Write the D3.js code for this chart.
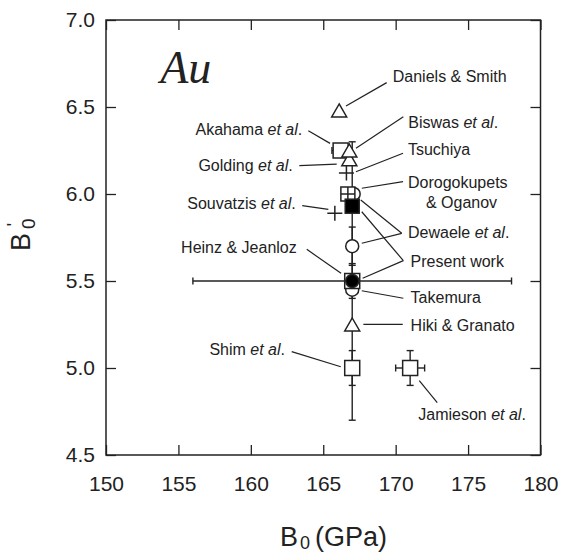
<!DOCTYPE html>
<html>
<head>
<meta charset="utf-8">
<script src="https://cdn.jsdelivr.net/npm/d3@7/dist/d3.min.js"></script>
<style>
  html, body { margin: 0; padding: 0; background: #fff; }
  svg { display: block; }
</style>
</head>
<body>
<svg id="chart" width="567" height="553"></svg>
<script>
// Reported bulk modulus B0 (GPa) and its pressure derivative B0' for gold.
// Listed in drawing order (later entries sit on top of earlier ones).
const studyNames = [
  "Takemura", "Heinz & Jeanloz", "Daniels & Smith", "Akahama et al.",
  "Golding et al.", "Biswas et al.", "Tsuchiya", "Dewaele et al.",
  "Dorogokupets & Oganov", "Present work", "Souvatzis et al.", "Dewaele et al.",
  "Present work", "Hiki & Granato", "Shim et al.", "Jamieson et al."
];
const bulkModulus = [167.0, 167.0, 166.1, 166.2, 166.8, 166.8, 166.6, 167.1,
                     166.7, 167.0, 165.8, 167.0, 167.0, 167.0, 167.0, 171.0];
const derivative  = [5.45, 5.50, 6.48, 6.25, 6.20, 6.25, 6.12, 6.00,
                     6.00, 5.93, 5.89, 5.70, 5.50, 5.25, 5.00, 5.00];
const bulkModulusErr = [0, 11.0, 0, 0.6, 0, 0, 0, 0, 0, 0, 0, 0, 0, 0, 0, 1.0];
const derivativeErr  = [0, 0.8, 0, 0, 0, 0, 0, 0, 0, 0, 0, 0.11, 0.10, 0, 0.10, 0.10];
const markerKind = [
  "circle", "square", "triangle", "square", "triangle", "triangle", "plus", "circle",
  "squarePlus", "squareFilled", "plus", "circle", "circleFilled", "triangle", "square", "square"
];

const xTicks = [150, 155, 160, 165, 170, 175, 180];
const yTicks = [4.5, 5.0, 5.5, 6.0, 6.5, 7.0];

// Study labels with their leader lines, in data units.
const notes = [
  { text: "Daniels & Smith", at: [169.80, 6.645], anchor: "start", lines: [[169.38, 6.640, 166.57, 6.506]] },
  { text: "Biswas et al.", at: [170.87, 6.381], anchor: "start", lines: [[170.53, 6.444, 167.26, 6.263]] },
  { text: "Tsuchiya", at: [170.85, 6.224], anchor: "start", lines: [[170.51, 6.234, 167.26, 6.128]] },
  { text: "Dorogokupets", at: [170.85, 6.033], anchor: "start", lines: [[170.51, 6.071, 167.66, 6.033]] },
  { text: "& Oganov", at: [172.09, 5.918], anchor: "start", lines: [] },
  { text: "Dewaele et al.", at: [170.85, 5.745], anchor: "start",
    lines: [[170.42, 5.774, 167.59, 5.966], [170.42, 5.774, 167.66, 5.717]] },
  { text: "Present work", at: [171.03, 5.579], anchor: "start",
    lines: [[170.53, 5.617, 167.66, 5.898], [170.53, 5.617, 167.72, 5.516]] },
  { text: "Takemura", at: [171.03, 5.375], anchor: "start", lines: [[170.53, 5.401, 167.66, 5.444]] },
  { text: "Hiki & Granato", at: [171.03, 5.214], anchor: "start", lines: [[170.49, 5.251, 167.77, 5.251]] },
  { text: "Jamieson et al.", at: [171.56, 4.701], anchor: "start", lines: [[172.87, 4.801, 171.63, 4.927]] },
  { text: "Akahama et al.", at: [163.55, 6.339], anchor: "end", lines: [[163.97, 6.364, 165.47, 6.291]] },
  { text: "Golding et al.", at: [162.89, 6.132], anchor: "end", lines: [[163.35, 6.163, 165.93, 6.172]] },
  { text: "Souvatzis et al.", at: [163.10, 5.914], anchor: "end", lines: [[163.55, 5.933, 165.35, 5.912]] },
  { text: "Heinz & Jeanloz", at: [163.17, 5.663], anchor: "end", lines: [[163.86, 5.682, 166.23, 5.544]] },
  { text: "Shim et al.", at: [162.36, 5.075], anchor: "end", lines: [[162.82, 5.094, 166.21, 5.007]] }
];

const ink = "#222";
const sans = "'Liberation Sans', Arial, Helvetica, sans-serif";

const svg = d3.select("#chart");
const margin = { left: 106, right: 540.5, top: 20, bottom: 455 };

const x = d3.scaleLinear().domain([150, 180]).range([margin.left, margin.right]);
const y = d3.scaleLinear().domain([4.5, 7.0]).range([margin.bottom, margin.top]);

// Axes: inward ticks on all four sides, labels on bottom and left.
function styleAxis(g) {
  g.select(".domain").remove();
  g.selectAll(".tick line").attr("stroke", ink).attr("stroke-width", 1.3);
  g.selectAll(".tick text").attr("fill", ink).attr("font-family", sans).attr("font-size", 21);
}

svg.append("g").attr("transform", `translate(0,${margin.bottom})`)
  .call(d3.axisBottom(x).tickValues(xTicks).tickFormat(d3.format("d"))
    .tickSizeInner(-10).tickSizeOuter(0).tickPadding(21))
  .call(styleAxis);

svg.append("g").attr("transform", `translate(0,${margin.top})`)
  .call(d3.axisTop(x).tickValues(xTicks).tickFormat("").tickSizeInner(-10).tickSizeOuter(0))
  .call(styleAxis);

svg.append("g").attr("transform", `translate(${margin.left},0)`)
  .call(d3.axisLeft(y).tickValues(yTicks).tickFormat(d3.format(".1f"))
    .tickSizeInner(-10).tickSizeOuter(0).tickPadding(11))
  .call(styleAxis);

svg.append("g").attr("transform", `translate(${margin.right},0)`)
  .call(d3.axisRight(y).tickValues(yTicks).tickFormat("").tickSizeInner(-10).tickSizeOuter(0))
  .call(styleAxis);

// Plot frame
svg.append("rect")
  .attr("x", x(150)).attr("y", y(7.0))
  .attr("width", x(180) - x(150)).attr("height", y(4.5) - y(7.0))
  .attr("fill", "none").attr("stroke", ink).attr("stroke-width", 1.5);

// Axis titles
const xTitle = svg.append("text")
  .attr("x", 280).attr("y", 546)
  .attr("fill", ink).attr("font-family", sans).attr("font-size", 27);
xTitle.append("tspan").text("B");
xTitle.append("tspan").attr("font-size", 18).attr("dx", 2).attr("dy", 3).text("0");
xTitle.append("tspan").attr("dx", 5).attr("dy", -3).text("(GPa)");

const yTitle = svg.append("text")
  .attr("transform", "translate(30,251) rotate(-90)")
  .attr("fill", ink).attr("font-family", sans).attr("font-size", 27);
yTitle.append("tspan").text("B");
yTitle.append("tspan").attr("font-size", 19).attr("dx", 4).attr("dy", 5).text("0");
yTitle.append("tspan").attr("font-size", 19).attr("dx", -8).attr("dy", -15).text("'");

// Element label
svg.append("text")
  .attr("x", x(153.74)).attr("y", y(6.64))
  .attr("fill", ink)
  .attr("font-family", "'Liberation Serif', 'Times New Roman', serif")
  .attr("font-style", "italic").attr("font-size", 46)
  .text("Au");

// Error bars
const cap = 3.5;
const errLayer = svg.append("g").attr("stroke", ink).attr("stroke-width", 1.4).attr("fill", "none");
studyNames.forEach((name, i) => {
  const cx = x(bulkModulus[i]), cy = y(derivative[i]);
  if (bulkModulusErr[i] > 0) {
    const x0 = x(bulkModulus[i] - bulkModulusErr[i]), x1 = x(bulkModulus[i] + bulkModulusErr[i]);
    errLayer.append("line").attr("x1", x0).attr("x2", x1).attr("y1", cy).attr("y2", cy);
    [x0, x1].forEach(xe => errLayer.append("line")
      .attr("x1", xe).attr("x2", xe).attr("y1", cy - cap).attr("y2", cy + cap));
  }
  if (derivativeErr[i] > 0) {
    const y0 = y(derivative[i] - derivativeErr[i]), y1 = y(derivative[i] + derivativeErr[i]);
    errLayer.append("line").attr("x1", cx).attr("x2", cx).attr("y1", y0).attr("y2", y1);
    [y0, y1].forEach(ye => errLayer.append("line")
      .attr("x1", cx - cap).attr("x2", cx + cap).attr("y1", ye).attr("y2", ye));
  }
});

// Leader lines
const leaderLayer = svg.append("g").attr("stroke", ink).attr("stroke-width", 1.2);
notes.forEach(n => n.lines.forEach(l => leaderLayer.append("line")
  .attr("x1", x(l[0])).attr("y1", y(l[1])).attr("x2", x(l[2])).attr("y2", y(l[3]))));

// Markers
const markerLayer = svg.append("g");
const half = 7.5;
studyNames.forEach((name, i) => {
  const g = markerLayer.append("g")
    .attr("transform", `translate(${x(bulkModulus[i])},${y(derivative[i])})`)
    .attr("stroke", ink).attr("stroke-width", 1.5);
  switch (markerKind[i]) {
    case "square":
      g.append("rect").attr("x", -half).attr("y", -half).attr("width", 2 * half).attr("height", 2 * half).attr("fill", "#fff");
      break;
    case "squareFilled":
      g.append("rect").attr("x", -7).attr("y", -7).attr("width", 14).attr("height", 14).attr("fill", "#000");
      break;
    case "squarePlus":
      g.append("rect").attr("x", -7).attr("y", -7).attr("width", 14).attr("height", 14).attr("fill", "#fff");
      g.append("path").attr("d", "M0,-7V7M-7,0H7").attr("fill", "none");
      break;
    case "circle":
      g.append("circle").attr("r", 6.5).attr("fill", "#fff");
      break;
    case "circleFilled":
      g.append("circle").attr("r", 6.5).attr("fill", "#000");
      break;
    case "triangle":
      g.append("path").attr("d", "M0,-6.5L7.5,6.5L-7.5,6.5Z").attr("fill", "#fff").attr("stroke-linejoin", "miter");
      break;
    case "plus":
      g.append("path").attr("d", "M0,-7.5V7.5M-7.5,0H7.5").attr("fill", "none");
      break;
  }
});

// Labels, with "et al" set in italics
const labelLayer = svg.append("g")
  .attr("fill", ink).attr("font-family", sans).attr("font-size", 16);
notes.forEach(n => {
  const t = labelLayer.append("text")
    .attr("x", x(n.at[0])).attr("y", y(n.at[1]))
    .attr("text-anchor", n.anchor);
  const parts = n.text.split(/(et al)/);
  parts.filter(p => p.length).forEach(p => {
    const s = t.append("tspan").text(p);
    if (p === "et al") s.attr("font-style", "italic");
  });
});
</script>
</body>
</html>
